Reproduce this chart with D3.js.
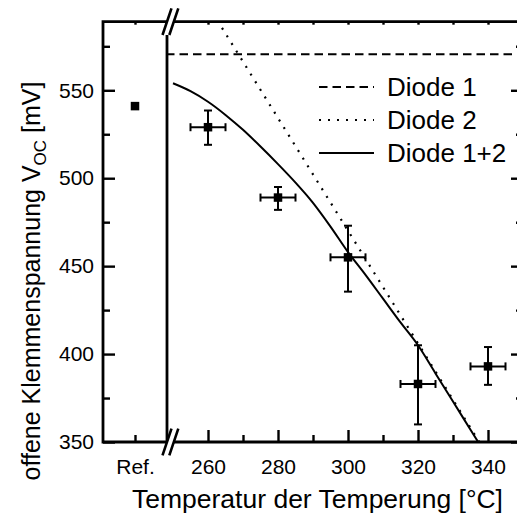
<!DOCTYPE html>
<html>
<head>
<meta charset="utf-8">
<script src="https://cdn.jsdelivr.net/npm/d3@7"></script>
<style>
  html, body { margin: 0; padding: 0; background: #fff; }
  svg { display: block; }
  text { font-family: "Liberation Sans", Arial, sans-serif; fill: #000; }
</style>
</head>
<body>
<svg id="chart" width="517" height="516"></svg>
<script>
// Reference cell (untreated sample)
const refLabel = "Ref.";
const refVoc = 541;

// Measured open-circuit voltage vs. annealing temperature
const tempC = [260, 280, 300, 320, 340];
const tempErr = [5, 5, 5, 5, 5];
const vocMV = [529, 489, 455, 383, 393];
const vocLow = [519, 482, 435.5, 360, 382.5];
const vocHigh = [538.5, 495, 473, 405, 404];

// Model curves
const diode1T = [248, 350];
const diode1V = [570.5, 570.5];
const diode2T = [264, 337.5];
const diode2V = [585.5, 350];
const diode12T = [250, 255, 260, 265, 270, 275, 280, 285, 290, 295, 300, 305, 310, 315, 320, 325, 330, 335, 337.5];
const diode12V = [554, 549.5, 543.5, 536, 527.5, 518, 508, 497.5, 486, 472.5, 458, 445, 431.5, 418, 405, 389, 373, 357, 349];

// Axis ticks
const yMajor = [350, 400, 450, 500, 550];
const yMinor = [375, 425, 475, 525, 575];
const xMajor = [260, 280, 300, 320, 340];
const xMinor = [270, 290, 310, 330];

const legendLabels = ["Diode 1", "Diode 2", "Diode 1+2"];

// Plot frame
const pLeft = 103, pTop = 21.7, pBottom = 442, pRight = 523, breakX = 167;

const svg = d3.select("#chart");

const y = d3.scaleLinear().domain([350, 589]).range([pBottom, pTop]);
const xR = d3.scaleLinear().domain([250, 350]).range([173, pRight]);
const xL = d3.scalePoint().domain([refLabel]).range([pLeft, breakX]).padding(0.5);

const AX = 2.8;

// clip for the temperature panel
svg.append("defs").append("clipPath").attr("id", "clipR")
  .append("rect").attr("x", breakX).attr("y", pTop).attr("width", pRight - breakX).attr("height", pBottom - pTop);

function styleAxis(g) {
  g.select(".domain").remove();
  g.selectAll(".tick line").attr("stroke", "#000").attr("stroke-width", 2.4);
  g.selectAll(".tick text").attr("font-size", 21).attr("font-family", "Liberation Sans, Arial, sans-serif").attr("fill", "#000");
}

// Left axis (major labelled, minor unlabelled)
svg.append("g").attr("transform", `translate(${pLeft},0)`)
  .call(d3.axisLeft(y).tickValues(yMajor).tickSize(-12).tickPadding(9).tickFormat(d3.format("d")))
  .call(styleAxis);
svg.append("g").attr("transform", `translate(${pLeft},0)`)
  .call(d3.axisLeft(y).tickValues(yMinor).tickSize(-7).tickFormat(""))
  .call(styleAxis);
// Right axis (mirrored ticks)
svg.append("g").attr("transform", `translate(${pRight},0)`)
  .call(d3.axisRight(y).tickValues(yMajor).tickSize(-12).tickFormat(""))
  .call(styleAxis);
svg.append("g").attr("transform", `translate(${pRight},0)`)
  .call(d3.axisRight(y).tickValues(yMinor).tickSize(-7).tickFormat(""))
  .call(styleAxis);

// Bottom axis
svg.append("g").attr("transform", `translate(0,${pBottom})`)
  .call(d3.axisBottom(xR).tickValues(xMajor).tickSize(-12).tickPadding(17).tickFormat(d3.format("d")))
  .call(styleAxis);
svg.append("g").attr("transform", `translate(0,${pBottom})`)
  .call(d3.axisBottom(xR).tickValues(xMinor).tickSize(-7).tickFormat(""))
  .call(styleAxis);
svg.append("g").attr("transform", `translate(0,${pBottom})`)
  .call(d3.axisBottom(xL).tickSize(-7).tickPadding(17))
  .call(styleAxis);

// Top axis (short ticks)
svg.append("g").attr("transform", `translate(0,${pTop})`)
  .call(d3.axisTop(xR).tickValues(xMajor.concat(xMinor)).tickSize(-3).tickFormat(""))
  .call(styleAxis);
svg.append("g").attr("transform", `translate(0,${pTop})`)
  .call(d3.axisTop(xL).tickSize(-3).tickFormat(""))
  .call(styleAxis);

// Frame
const frame = svg.append("g").attr("stroke", "#000").attr("stroke-width", AX).attr("fill", "none");
frame.append("path").attr("d", `M${pRight},${pTop}H${pLeft}V${pBottom}H${pRight}`).attr("stroke-linecap", "square");
frame.append("line").attr("x1", breakX).attr("x2", breakX).attr("y1", pTop).attr("y2", pBottom);

// Model curves
const lineGen = d3.line().x(d => xR(d[0])).y(d => y(d[1]));
const curves = svg.append("g").attr("clip-path", "url(#clipR)").attr("fill", "none").attr("stroke", "#000");
curves.append("path").datum(d3.zip(diode1T, diode1V)).attr("d", lineGen)
  .attr("stroke-width", 2).attr("stroke-dasharray", "8.5,5");
curves.append("path").datum(d3.zip(diode2T, diode2V)).attr("d", lineGen)
  .attr("stroke-width", 2.2).attr("stroke-dasharray", "2,7");
curves.append("path").datum(d3.zip(diode12T, diode12V))
  .attr("d", lineGen.curve(d3.curveMonotoneX))
  .attr("stroke-width", 2);

// Error bars and markers
const pts = tempC.map((t, i) => ({ t, v: vocMV[i], dt: tempErr[i], lo: vocLow[i], hi: vocHigh[i] }));
const eb = svg.append("g").attr("stroke", "#000").attr("stroke-width", 2);
const cap = 4;
pts.forEach(p => {
  const cx = xR(p.t), cy = y(p.v);
  const x0 = xR(p.t - p.dt), x1 = xR(p.t + p.dt);
  const y0 = y(p.lo), y1 = y(p.hi);
  eb.append("line").attr("x1", cx).attr("x2", cx).attr("y1", y0).attr("y2", y1);
  eb.append("line").attr("x1", cx - cap).attr("x2", cx + cap).attr("y1", y0).attr("y2", y0);
  eb.append("line").attr("x1", cx - cap).attr("x2", cx + cap).attr("y1", y1).attr("y2", y1);
  eb.append("line").attr("x1", x0).attr("x2", x1).attr("y1", cy).attr("y2", cy);
  eb.append("line").attr("x1", x0).attr("x2", x0).attr("y1", cy - cap).attr("y2", cy + cap);
  eb.append("line").attr("x1", x1).attr("x2", x1).attr("y1", cy - cap).attr("y2", cy + cap);
});
const sq = 8.5;
svg.append("g").selectAll("rect").data(pts).join("rect")
  .attr("x", d => xR(d.t) - sq / 2).attr("y", d => y(d.v) - sq / 2)
  .attr("width", sq).attr("height", sq).attr("fill", "#000");
svg.append("rect")
  .attr("x", xL(refLabel) - sq / 2).attr("y", y(refVoc) - sq / 2)
  .attr("width", sq).attr("height", sq).attr("fill", "#000");

// Axis break marks
function breakMark(cy) {
  const g = svg.append("g").attr("transform", `translate(${breakX + 3.5},${cy})`);
  g.append("path").attr("d", "M-8,13.3L1,-13.3L7.8,-13.3L-1.2,13.3Z").attr("fill", "#fff");
  g.append("path").attr("d", "M-8,13.3L1,-13.3M-1.2,13.3L7.8,-13.3")
    .attr("stroke", "#000").attr("stroke-width", 2.6).attr("fill", "none");
}
breakMark(pTop);
breakMark(pBottom);

// Legend
const dashes = ["8.5,5", "2,7", null];
const lg = svg.append("g");
legendLabels.forEach((lab, i) => {
  const ly = 87 + i * 33;
  const ln = lg.append("line").attr("x1", 319).attr("x2", 374).attr("y1", ly).attr("y2", ly)
    .attr("stroke", "#000").attr("stroke-width", 2);
  if (dashes[i]) ln.attr("stroke-dasharray", dashes[i]);
  lg.append("text").attr("x", 387).attr("y", ly + 9).attr("font-size", 26).text(lab);
});

// Axis titles
svg.append("text").attr("x", 317.5).attr("y", 508).attr("text-anchor", "middle")
  .attr("font-size", 26.5).text("Temperatur der Temperung [°C]");

const yt = svg.append("text").attr("transform", "translate(40,281) rotate(-90)")
  .attr("text-anchor", "middle").attr("font-size", 25);
yt.append("tspan").text("offene Klemmenspannung V");
yt.append("tspan").attr("font-size", 17).attr("dy", 6).text("OC");
yt.append("tspan").attr("dy", -6).text(" [mV]");
</script>
</body>
</html>
